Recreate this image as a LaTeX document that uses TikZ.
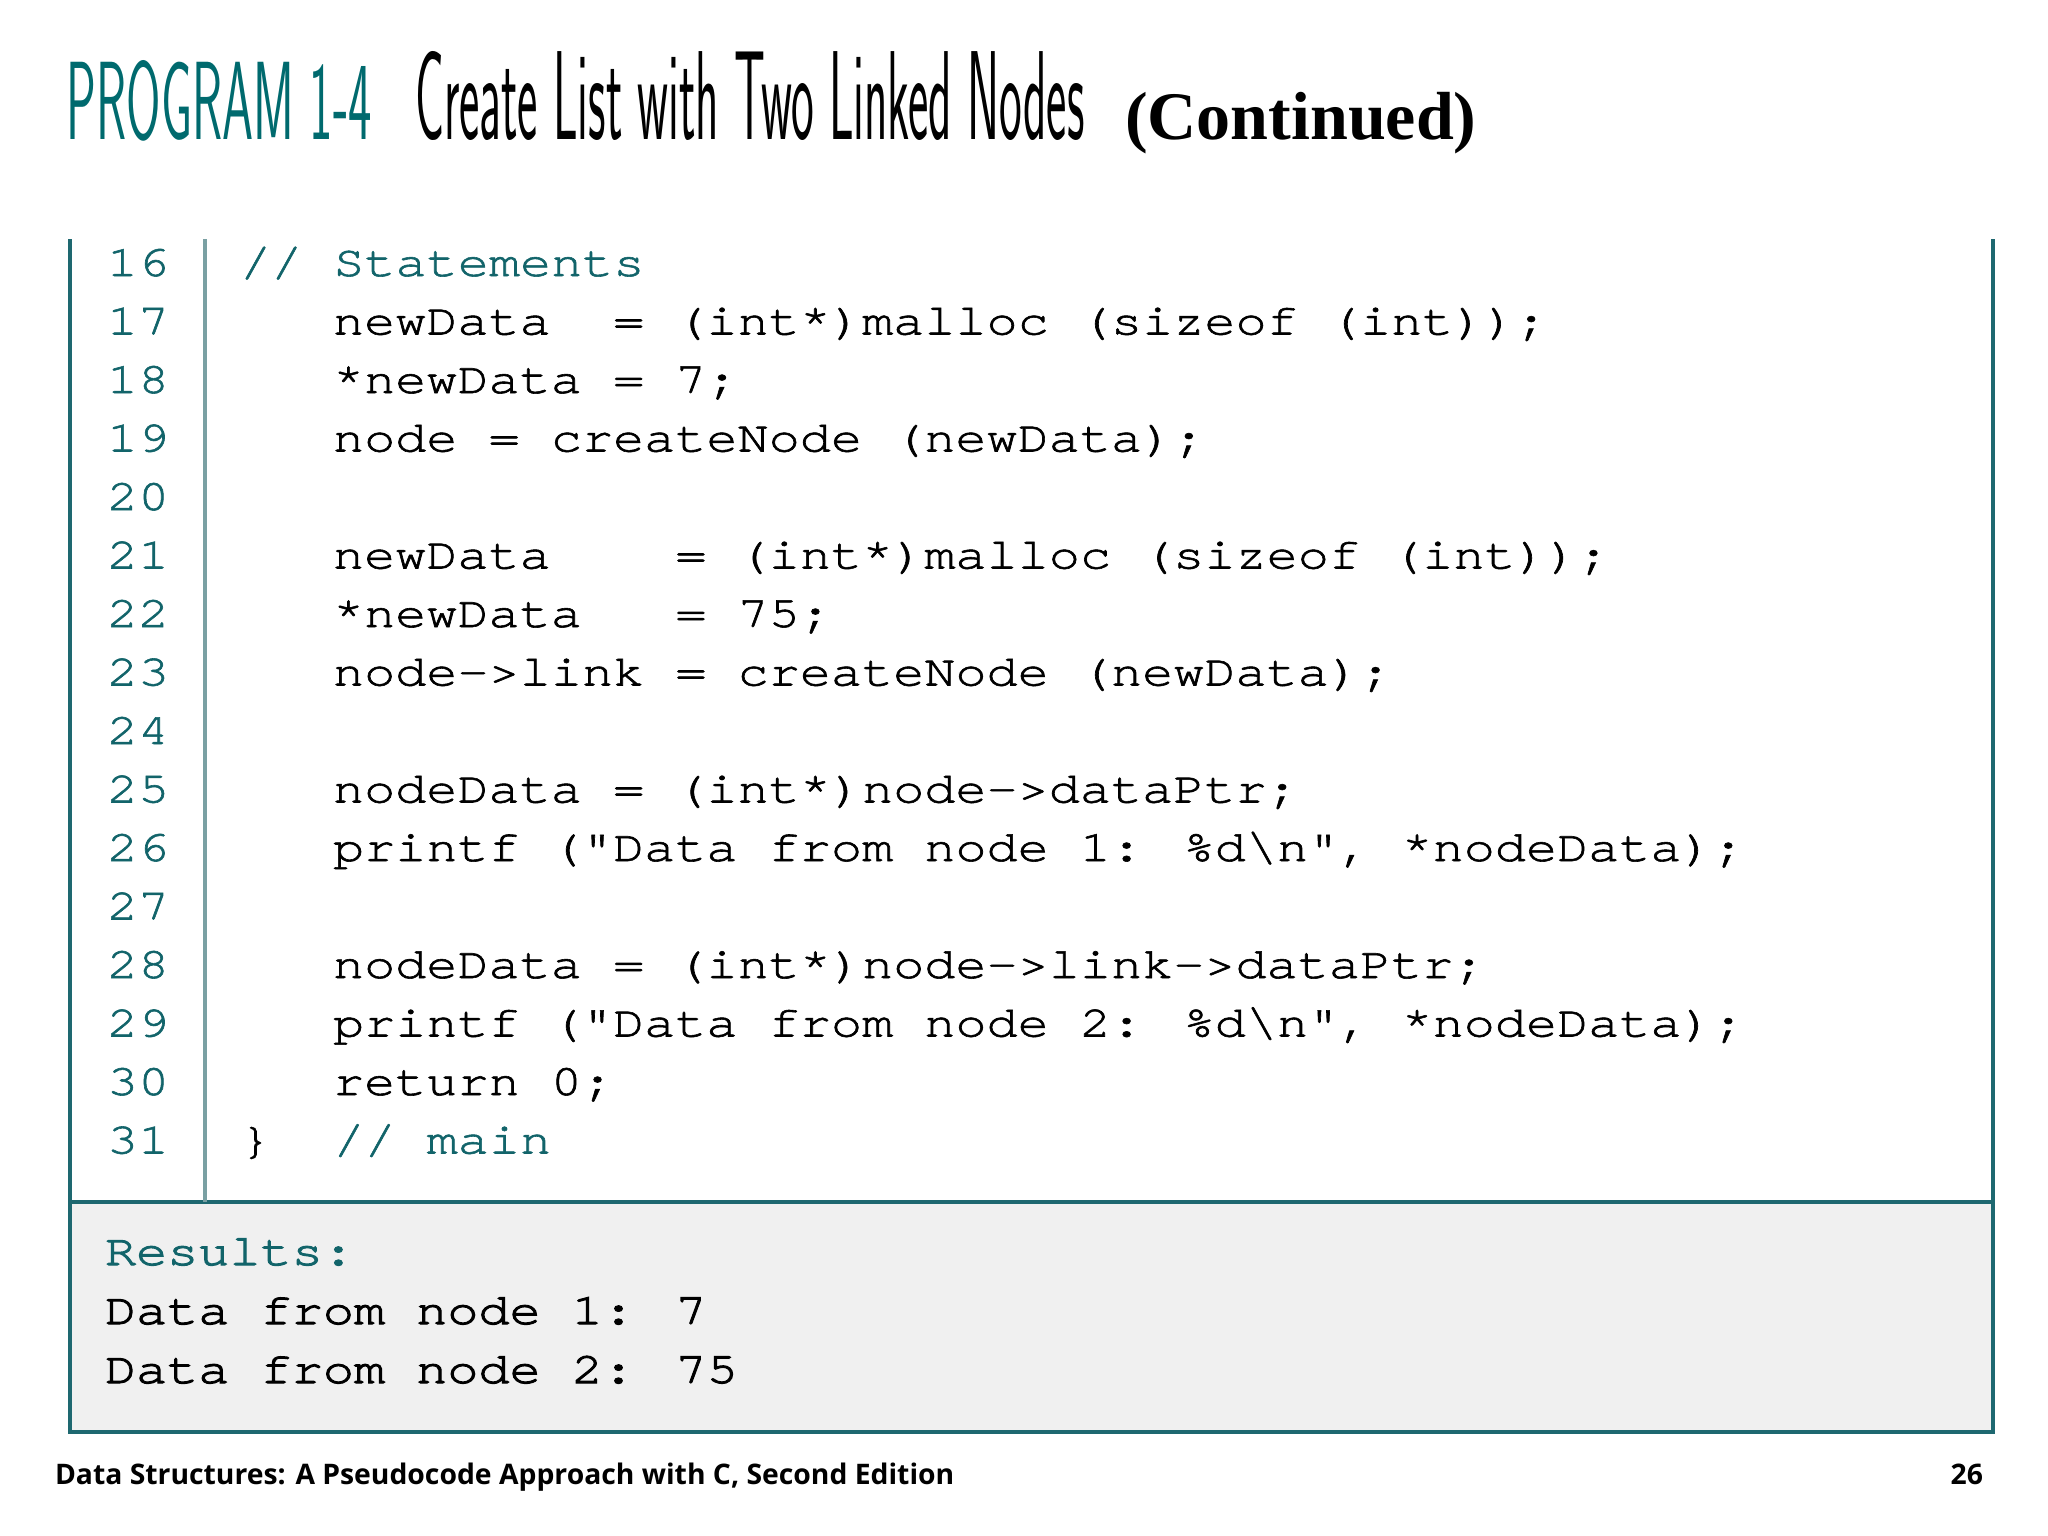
\documentclass[tikz,border=0pt]{standalone}
\usepackage{fontspec}
\usepackage{graphicx}
\newfontfamily\codefont{texgyrecursor}[Extension=.otf,UprightFont=*-regular,BoldFont=*-bold,FakeBold=1.3]
\newfontfamily\resfont{texgyrecursor}[Extension=.otf,UprightFont=*-regular,BoldFont=*-bold,FakeBold=2.2]
\newfontfamily\titlefont{lmsans17-regular}[Extension=.otf]
\newfontfamily\contfont{Liberation Serif}
\newfontfamily\footfont{Open Sans}
\definecolor{titleteal}{RGB}{0,106,110}
\definecolor{codeteal}{RGB}{18,100,106}
\definecolor{frameteal}{RGB}{30,104,112}
\definecolor{sepgray}{RGB}{122,160,163}
\definecolor{resbg}{RGB}{240,240,240}
\newcommand\hs[1]{\scalebox{1.18}[1]{#1}}
\begin{document}
\begin{tikzpicture}[x=0.01cm,y=-0.01cm,
  every node/.style={inner sep=0pt,outer sep=0pt},
  code/.style={anchor=base west,font={\codefont\fontsize{12.5pt}{14pt}\selectfont}},
  lnum/.style={code,text=codeteal},
  cmt/.style={code,text=codeteal},
  res/.style={anchor=base west,font={\resfont\fontsize{12.5pt}{14pt}\selectfont}},
  foot/.style={font={\footfont\bfseries\fontsize{8.05pt}{10pt}\selectfont}},
  frameline/.style={draw=frameteal,line width=0.9pt},
  sepline/.style={draw=sepgray,line width=1.2pt}]
\useasboundingbox (0,0) rectangle (2048,1536);

% title
\node[anchor=base west,text=titleteal] (prog) at (67,139) {\resizebox{3.05cm}{0.79cm}{\titlefont PROGRAM 1-4}};
\node[anchor=base west] (ttl) at (415,139) {\resizebox{6.69cm}{0.88cm}{\titlefont Create List with Two Linked Nodes}};
\node[anchor=base west,font={\contfont\bfseries\fontsize{19.35pt}{22pt}\selectfont}] (cont) at (1125,139) {(Continued)};

% frame
\fill[resbg] (70,1202) rectangle (1993,1432);
\draw[frameline] (70,239) -- (70,1432) -- (1993,1432) -- (1993,239);
\draw[frameline] (70,1202) -- (1993,1202);
\draw[sepline] (205,239) -- (205,1202);

% line numbers
\foreach \k [count=\i from 0] in {16,...,31} {
  \node[lnum] (n\k) at (107,276+58.5*\i) {\hs{\k}};
}

% code
\node[cmt] (l16) at (240,276) {\hs{// Statements}};
\node[code] (l17) at (333,334.5) {\hs{newData\ \ = (int*)malloc (sizeof (int));}};
\node[code] (l18) at (333,393) {\hs{*newData = 7;}};
\node[code] (l19) at (333,451.5) {\hs{node = createNode (newData);}};
\node[code] (l21) at (333,568.5) {\hs{newData\ \ \ \ = (int*)malloc (sizeof (int));}};
\node[code] (l22) at (333,627) {\hs{*newData\ \ \ = 75;}};
\node[code] (l23) at (333,685.5) {\hs{node->link = createNode (newData);}};
\node[code] (l25) at (333,802.5) {\hs{nodeData = (int*)node->dataPtr;}};
\node[code] (l26) at (333,861) {\hs{printf ("Data from node 1: \%d\textbackslash n", *nodeData);}};
\node[code] (l28) at (333,978) {\hs{nodeData = (int*)node->link->dataPtr;}};
\node[code] (l29) at (333,1036.5) {\hs{printf ("Data from node 2: \%d\textbackslash n", *nodeData);}};
\node[code] (l30) at (333,1095) {\hs{return 0;}};
\node[code] (l31) at (240,1153.5) {\hs{\}\ \ \textcolor{codeteal}{// main}}};

% results
\node[res,text=codeteal] (r0) at (105,1265) {\hs{Results:}};
\node[res] (r1) at (105,1324) {\hs{Data from node 1: 7}};
\node[res] (r2) at (105,1383) {\hs{Data from node 2: 75}};

% footer
\node[foot,anchor=base west] (foottext) at (55,1484) {Data Structures: A Pseudocode Approach with C, Second Edition};
\node[foot,anchor=base east] (page) at (1983,1484) {26};
\end{tikzpicture}
\end{document}
